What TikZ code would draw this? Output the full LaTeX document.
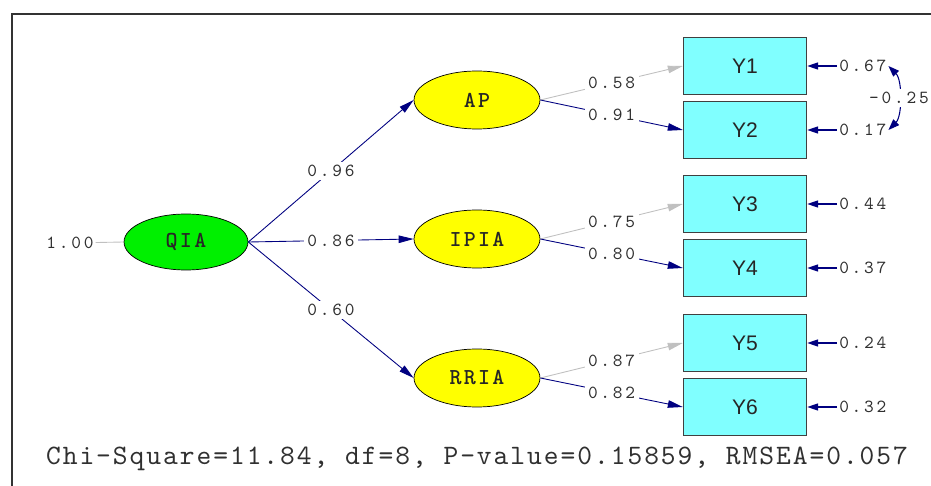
\documentclass[tikz,border=0pt]{standalone}
\usepackage{fontspec}
\setmainfont{Liberation Sans}
\newfontfamily\numfont{lmmono10-regular.otf}[LetterSpace=15]
\newfontfamily\fitfont{lmmono10-regular.otf}[LetterSpace=7]
\newfontfamily\latfont{lmmonolt10-bold.otf}[LetterSpace=10]
\usetikzlibrary{shapes.geometric, arrows.meta, positioning}
\definecolor{semNavy}{HTML}{000080}
\definecolor{semGrey}{HTML}{C0C0C0}
\definecolor{semCyan}{HTML}{80FFFF}
\definecolor{semYellow}{HTML}{FFFF00}
\definecolor{semGreen}{HTML}{00F000}
\definecolor{semInk}{HTML}{303030}
\definecolor{semEdge}{HTML}{404040}

\begin{document}
\begin{tikzpicture}[x=0.02cm, y=-0.02cm,
        lat/.style={ellipse, draw=black, fill=semYellow, minimum width=2.52cm, minimum height=1.16cm, font=\latfont\fontsize{13}{13}\selectfont, text=black!85},
        obs/.style={draw=semEdge, line width=0.8pt, fill=semCyan, minimum width=2.46cm, minimum height=1.14cm, font=\fontsize{12}{12}\selectfont, text=black!85},
        num/.style={font=\numfont\fontsize{10.5}{10.5}\selectfont, text=semInk, inner sep=1pt},
        lbl/.style={num, fill=white, inner sep=2pt},
        path/.style={-{Triangle[length=0.3cm, width=0.15cm]}, semNavy, line width=0.5pt},
        grey/.style={-{Triangle[length=0.3cm, width=0.15cm]}, semGrey, line width=0.5pt},
        err/.style={-{Triangle[length=0.22cm, width=0.14cm]}, semNavy, line width=0.8pt},
        cov/.style={{Triangle[length=0.22cm, width=0.16cm]}-{Triangle[length=0.22cm, width=0.16cm]}, semNavy, line width=0.6pt}]
        \useasboundingbox (0,0) rectangle (931,486);
        \draw[black!80, line width=1.2pt] (12,486) -- (12,14) -- (931,14);
        % latent variables
        \node[lat, fill=semGreen, minimum width=2.48cm, minimum height=1.12cm] (qia) at (186,242) {QIA};
        \node[lat] (ap) at (477,100) {AP};
        \node[lat] (ipia) at (477,239) {IPIA};
        \node[lat] (rria) at (477,378) {RRIA};
        \node[num] (v0) at (70,243) {1.00};
        % observed variables
        \node[obs] (y1) at (745,66) {Y1};
        \node[obs] (y2) at (745,130) {Y2};
        \node[obs] (y3) at (745,204) {Y3};
        \node[obs] (y4) at (745,268) {Y4};
        \node[obs] (y5) at (745,343) {Y5};
        \node[obs] (y6) at (745,407) {Y6};
        % error variances
        \node[num, right=0.6cm of y1] (e1) {0.67};
        \node[num, right=0.6cm of y2] (e2) {0.17};
        \node[num, right=0.6cm of y3] (e3) {0.44};
        \node[num, right=0.6cm of y4] (e4) {0.37};
        \node[num, right=0.6cm of y5] (e5) {0.24};
        \node[num, right=0.6cm of y6] (e6) {0.32};
        \draw[semGrey, line width=0.5pt] (v0) -- (qia.west);
        \draw[path] (qia.east) -- node[lbl]{0.96} (ap.west);
        \draw[path] (qia.east) -- node[lbl]{0.86} (ipia.west);
        \draw[path] (qia.east) -- node[lbl]{0.60} (rria.west);
        \draw[grey] (ap.east) -- node[lbl]{0.58} (y1.west);
        \draw[path] (ap.east) -- node[lbl]{0.91} (y2.west);
        \draw[grey] (ipia.east) -- node[lbl]{0.75} (y3.west);
        \draw[path] (ipia.east) -- node[lbl]{0.80} (y4.west);
        \draw[grey] (rria.east) -- node[lbl]{0.87} (y5.west);
        \draw[path] (rria.east) -- node[lbl]{0.82} (y6.west);
        \foreach \i in {1,...,6}
          \draw[err] (e\i.west) -- (y\i.east);
        \draw[cov] (e1.east) .. controls +(14,14) and +(14,-14) .. node[lbl, fill=white]{-0.25} (e2.east);
        \node[font=\fitfont\fontsize{16}{16}\selectfont, text=semInk] (fit) at (477,459) {Chi-Square=11.84, df=8, P-value=0.15859, RMSEA=0.057};
      \end{tikzpicture}
\end{document}
